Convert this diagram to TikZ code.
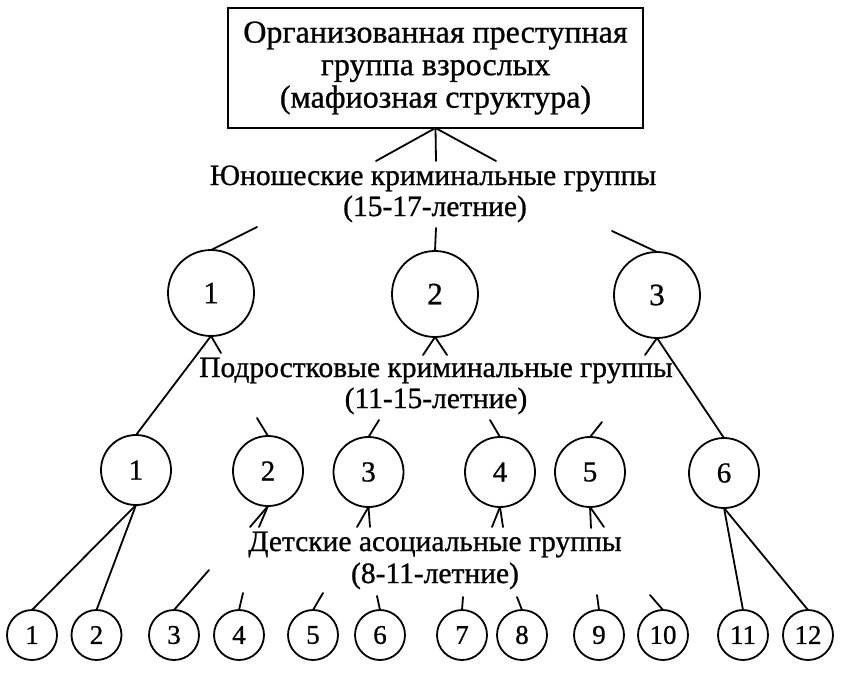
\documentclass[tikz,border=0pt]{standalone}
\usepackage{fontspec}
\setmainfont{Liberation Serif}[UprightFeatures={FakeBold=0.8}]
\begin{document}
\begin{tikzpicture}[x=1pt,y=-1pt,
  every node/.style={inner sep=0pt, outer sep=0pt},
  ln/.style={line width=1.8pt, line cap=round},
  lbl/.style={font=\fontsize{29.5}{33}\selectfont, anchor=base},
  bigc/.style={circle, draw, line width=1.8pt, minimum size=86pt, font=\fontsize{31}{32}\selectfont},
  midc/.style={circle, draw, line width=1.8pt, minimum size=70pt, font=\fontsize{29}{30}\selectfont},
  smallc/.style={circle, draw, line width=1.8pt, minimum size=50pt, font=\fontsize{27}{28}\selectfont},
]
\fill[white] (0,0) rectangle (850,672);
\useasboundingbox (0,0) rectangle (850,672);

% top box
\node[draw, line width=1.8pt, minimum width=415pt, minimum height=120pt, align=center,
      font=\fontsize{32}{32.5}\selectfont] (box) at (435.5,68)
  {Организованная преступная\\группа взрослых\\(мафиозная структура)};
\coordinate (bl) at (376,161);
\coordinate (bm) at (436,161);
\coordinate (br) at (496,161);
\draw[ln] (box.south) -- (bl);
\draw[ln] (box.south) -- (bm);
\draw[ln] (box.south) -- (br);

% level 1 label
\node[lbl] (l1a) at (433,185) {Юношеские криминальные группы};
\node[lbl] (l1b) at (435,216) {(15-17-летние)};

% level 1 circles
\node[bigc] (t1) at (211,293) {1};
\node[bigc] (t2) at (435,294) {2};
\node[bigc] (t3) at (657,295) {3};
\coordinate (a1) at (257,227);
\coordinate (a2) at (436,228);
\coordinate (a3) at (612,231);
\draw[ln] (a1) -- (t1.north);
\draw[ln] (a2) -- (t2.north);
\draw[ln] (a3) -- (t3.north);
\coordinate (c1) at (221,353);
\coordinate (c2l) at (423,355);
\coordinate (c2r) at (447,355);
\coordinate (c3) at (645,355);
\draw[ln] (t1.south) -- (c1);
\draw[ln] (t2.south) -- (c2l);
\draw[ln] (t2.south) -- (c2r);
\draw[ln] (t3.south) -- (c3);

% level 2 label
\node[lbl] (l2a) at (436,377) {Подростковые криминальные группы};
\node[lbl] (l2b) at (436,408) {(11-15-летние)};

% level 2 circles
\node[midc] (m1) at (136,470) {1};
\node[midc] (m2) at (268,471) {2};
\node[midc] (m3) at (368.5,472) {3};
\node[midc] (m4) at (500,472) {4};
\node[midc] (m5) at (590,472) {5};
\node[midc] (m6) at (724,473) {6};
\draw[ln] (t1.south) -- (m1.north);
\draw[ln] (t3.south) -- (m6.north);
\coordinate (d2) at (257,418);
\coordinate (d3) at (379,420);
\coordinate (d4) at (490,420);
\coordinate (d5) at (602,422);
\draw[ln] (d2) -- (m2.north);
\draw[ln] (d3) -- (m3.north);
\draw[ln] (d4) -- (m4.north);
\draw[ln] (d5) -- (m5.north);
\coordinate (e2l) at (250,527);
\coordinate (e2r) at (259,527);
\coordinate (e3l) at (357,527);
\coordinate (e3r) at (370,527);
\coordinate (e4l) at (492,527);
\coordinate (e4r) at (503,527);
\coordinate (e5l) at (591,528);
\coordinate (e5r) at (604,527);
\draw[ln] (m2.south) -- (e2l);
\draw[ln] (m2.south) -- (e2r);
\draw[ln] (m3.south) -- (e3l);
\draw[ln] (m3.south) -- (e3r);
\draw[ln] (m4.south) -- (e4l);
\draw[ln] (m4.south) -- (e4r);
\draw[ln] (m5.south) -- (e5l);
\draw[ln] (m5.south) -- (e5r);

% level 3 label
\node[lbl] (l3a) at (435,551) {Детские асоциальные группы};
\node[lbl] (l3b) at (435,583) {(8-11-летние)};

% bottom circles
\node[smallc] (b1) at (32,635) {1};
\node[smallc] (b2) at (96.5,635) {2};
\node[smallc] (b3) at (174,635) {3};
\node[smallc] (b4) at (239,635) {4};
\node[smallc] (b5) at (313,635) {5};
\node[smallc] (b6) at (380,635) {6};
\node[smallc] (b7) at (462,635) {7};
\node[smallc] (b8) at (522,635) {8};
\node[smallc] (b9) at (599,635) {9};
\node[smallc] (b10) at (663,635) {10};
\node[smallc] (b11) at (743,635) {11};
\node[smallc] (b12) at (808,635) {12};
\draw[ln] (m1.south) -- (b1.north);
\draw[ln] (m1.south) -- (b2.north);
\draw[ln] (m6.south) -- (b11.north);
\draw[ln] (m6.south) -- (b12.north);
\coordinate (f3) at (209,570);
\coordinate (f4) at (243,593);
\coordinate (f5) at (323,593);
\coordinate (f6) at (377,596);
\coordinate (f7) at (463,597);
\coordinate (f8) at (517,597);
\coordinate (f9) at (597,595);
\coordinate (f10) at (650,595);
\draw[ln] (f3) -- (b3.north);
\draw[ln] (f4) -- (b4.north);
\draw[ln] (f5) -- (b5.north);
\draw[ln] (f6) -- (b6.north);
\draw[ln] (f7) -- (b7.north);
\draw[ln] (f8) -- (b8.north);
\draw[ln] (f9) -- (b9.north);
\draw[ln] (f10) -- (b10.north);
\end{tikzpicture}
\end{document}
